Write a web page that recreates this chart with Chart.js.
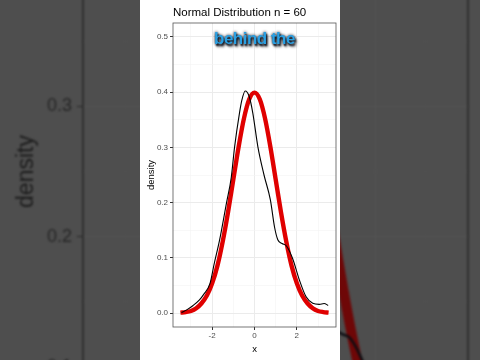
<!DOCTYPE html>
<html>
<head>
<meta charset="utf-8">
<script src="https://cdn.jsdelivr.net/npm/chart.js@4"></script>
<style>
  html, body { margin: 0; padding: 0; }
  body { width: 480px; height: 360px; overflow: hidden; background: #4e4e4e; position: relative; }
  #bg { position: absolute; left: 0; top: -203px; filter: blur(1px); }
  #fg { position: absolute; left: 140px; top: 0; background: #ffffff; }
  #caption {
    position: absolute; left: 173px; top: 29px; width: 163px;
    text-align: center; line-height: 20px;
    font: bold 17px "Liberation Sans", Arial, sans-serif; letter-spacing: -0.5px;
    color: #2ba0e2;
    text-shadow: 1px 2px 2px #0a0f1a, 0 0 3px #0a0f1a, 2px 3px 3px rgba(0,0,0,0.6);
  }
</style>
</head>
<body>
<canvas id="bg" width="480" height="749"></canvas>
<canvas id="fg" width="200" height="360"></canvas>
<div id="caption">behind the</div>
<script>
// tick values and labels
const yMajor = [0, 0.1, 0.2, 0.3, 0.4, 0.5];
const yMajorLabels = ['0.0', '0.1', '0.2', '0.3', '0.4', '0.5'];
const yMinor = [0.05, 0.15, 0.25, 0.35, 0.45];
const xMajor = [-2, 0, 2];
const xMajorLabels = ['-2', '0', '2'];
const xMinor = [-3, -1, 1, 3];

// theoretical normal curve (red)
const normalX = [-3.5, -3.25, -3, -2.75, -2.5, -2.25, -2, -1.75, -1.5, -1.25, -1, -0.75, -0.5, -0.25, 0,
                 0.25, 0.5, 0.75, 1, 1.25, 1.5, 1.75, 2, 2.25, 2.5, 2.75, 3, 3.25, 3.5];
const normalDensity = [0.001, 0.002, 0.004, 0.009, 0.018, 0.032, 0.054, 0.086, 0.130, 0.183, 0.242, 0.301, 0.352, 0.387, 0.399,
                       0.387, 0.352, 0.301, 0.242, 0.183, 0.130, 0.086, 0.054, 0.032, 0.018, 0.009, 0.004, 0.002, 0.001];

// sample density of n = 60 (black)
const sampleX = [-3.45, -3.2, -2.9, -2.6, -2.4, -2.1, -1.9, -1.65, -1.32, -1.1, -0.94, -0.71, -0.6, -0.44, -0.25, -0.08,
                 0.16, 0.45, 0.75, 0.95, 1.1, 1.3, 1.5, 1.8, 2.12, 2.43, 2.75, 3.06, 3.29, 3.48];
const sampleDensity = [0.001, 0.006, 0.014, 0.024, 0.034, 0.054, 0.090, 0.132, 0.200, 0.245, 0.301, 0.362, 0.385, 0.402, 0.392, 0.362,
                       0.301, 0.250, 0.205, 0.155, 0.133, 0.126, 0.122, 0.099, 0.060, 0.030, 0.018, 0.016, 0.0175, 0.014];

function pts(xs, ys) {
    return xs.map((x, i) => ({x: x, y: ys[i]}));
}

function isIn(arr, v) {
    return arr.some(a => Math.abs(a - v) < 1e-9);
}

const panelBorder = {
    id: 'panelBorder',
    afterDatasetsDraw(chart, args, opts) {
        const a = chart.chartArea;
        const ctx = chart.ctx;
        ctx.save();
        ctx.strokeStyle = opts.color;
        ctx.lineWidth = opts.width;
        ctx.strokeRect(a.left, a.top, a.right - a.left, a.bottom - a.top);
        ctx.restore();
    }
};

function buildChart(id, st) {
    return new Chart(document.getElementById(id).getContext('2d'), {
        type: 'scatter',
        data: {
            datasets: [{
                data: pts(sampleX, sampleDensity),
                showLine: true,
                borderColor: st.black,
                borderWidth: st.blackWidth,
                pointRadius: 0,
                cubicInterpolationMode: 'monotone'
            }, {
                data: pts(normalX, normalDensity),
                showLine: true,
                borderColor: st.red,
                borderWidth: st.redWidth,
                pointRadius: 0,
                cubicInterpolationMode: 'monotone'
            }]
        },
        plugins: [panelBorder],
        options: {
            responsive: false,
            animation: false,
            events: [],
            layout: {padding: {left: 0, right: st.padRight, top: 0, bottom: 0}},
            scales: {
                x: {
                    type: 'linear',
                    min: -3.85,
                    max: 3.85,
                    afterBuildTicks: (s) => { s.ticks = xMinor.concat(xMajor).sort((a, b) => a - b).map(v => ({value: v})); },
                    afterFit: (s) => { s.height = st.xHeight; },
                    border: {display: false},
                    grid: {
                        color: (c) => c.tick && isIn(xMajor, c.tick.value) ? st.gridMajor : st.gridMinor,
                        lineWidth: (c) => c.tick && isIn(xMajor, c.tick.value) ? 1 : 0.6,
                        tickColor: (c) => c.tick && isIn(xMajor, c.tick.value) ? st.tick : 'rgba(0,0,0,0)',
                        tickLength: st.tickLength
                    },
                    ticks: {
                        display: st.xTicks,
                        autoSkip: false,
                        maxRotation: 0,
                        padding: 1,
                        color: st.tickText,
                        font: {family: 'Liberation Sans, Arial, sans-serif', size: st.tickSize},
                        callback: (v) => isIn(xMajor, v) ? xMajorLabels[xMajor.findIndex(a => Math.abs(a - v) < 1e-9)] : ''
                    },
                    title: {
                        display: st.xTicks,
                        text: 'x',
                        color: '#000000',
                        padding: {top: 0, bottom: 5},
                        font: {family: 'Liberation Sans, Arial, sans-serif', size: st.titleSize}
                    }
                },
                y: {
                    type: 'linear',
                    min: -0.025,
                    max: 0.525,
                    afterBuildTicks: (s) => { s.ticks = yMinor.concat(yMajor).sort((a, b) => a - b).map(v => ({value: v})); },
                    afterFit: (s) => { s.width = st.yWidth; },
                    border: {display: false},
                    grid: {
                        color: (c) => c.tick && isIn(yMajor, c.tick.value) ? st.gridMajor : st.gridMinor,
                        lineWidth: (c) => c.tick && isIn(yMajor, c.tick.value) ? 1 : 0.6,
                        tickColor: (c) => c.tick && isIn(yMajor, c.tick.value) ? st.tick : 'rgba(0,0,0,0)',
                        tickLength: st.tickLength
                    },
                    ticks: {
                        autoSkip: false,
                        padding: st.yTickPad,
                        color: st.tickText,
                        font: {family: 'Liberation Sans, Arial, sans-serif', size: st.tickSize},
                        callback: (v) => isIn(yMajor, v) ? yMajorLabels[yMajor.findIndex(a => Math.abs(a - v) < 1e-9)] : ''
                    },
                    title: {
                        display: true,
                        text: 'density',
                        color: st.titleText,
                        padding: {top: st.yTitlePad, bottom: 0},
                        font: {family: 'Liberation Sans, Arial, sans-serif', size: st.titleSize}
                    }
                }
            },
            plugins: {
                legend: {display: false},
                tooltip: {enabled: false},
                panelBorder: {color: st.border, width: st.borderWidth},
                title: {
                    display: st.title,
                    text: 'Normal Distribution n = 60',
                    align: 'start',
                    fullSize: false,
                    color: '#000000',
                    padding: {top: 6, bottom: 3.2},
                    font: {family: 'Liberation Sans, Arial, sans-serif', size: 11.5, weight: 'normal'}
                }
            }
        }
    });
}

// zoomed, darkened copy behind the video frame
buildChart('bg', {
    black: '#0d0d12', blackWidth: 2.6, red: '#6e0707', redWidth: 10,
    padRight: 12, xHeight: 0, yWidth: 83, xTicks: false, title: false,
    gridMajor: '#555555', gridMinor: '#525252', tick: '#262626', tickLength: 6,
    tickText: '#262626', tickSize: 18, yTickPad: 5, titleText: '#1c1c1c', titleSize: 23, yTitlePad: 13,
    border: '#282828', borderWidth: 1.6
});

// the chart itself
buildChart('fg', {
    black: '#000000', blackWidth: 1.1, red: '#e00000', redWidth: 4.4,
    padRight: 4, xHeight: 33, yWidth: 33, xTicks: true, title: true,
    gridMajor: '#ebebeb', gridMinor: '#f4f4f4', tick: '#333333', tickLength: 3,
    tickText: '#4d4d4d', tickSize: 8, yTickPad: 2, titleText: '#000000', titleSize: 9.5, yTitlePad: 5.3,
    border: '#555555', borderWidth: 0.8
});
</script>
</body>
</html>
